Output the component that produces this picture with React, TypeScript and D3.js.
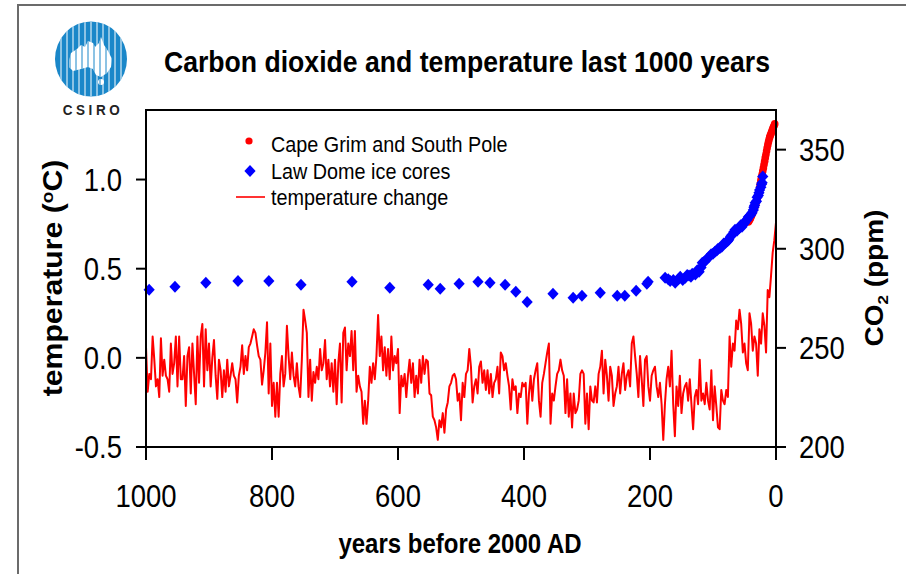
import React from "react";
import * as d3 from "d3";

const W = 906;
const H = 574;
const margin = { top: 110, right: 130, bottom: 127, left: 146 };
const K = 1.12; // vertical stretch of the text in the original picture

const xTicks = [1000, 800, 600, 400, 200, 0];
const tempTicks = [-0.5, 0.0, 0.5, 1.0];
const co2Ticks = [200, 250, 300, 350];

const temperature = [
  0.06, -0.19, -0.09, -0.12, 0.12, -0.01, -0.16, -0.12, -0.22, 0.11,
  -0.1, -0.01, -0.1, -0.12, -0.19, 0.08, -0.09, -0.03, 0.12, -0.16,
  0.12, -0.12, -0.12, 0.01, -0.27, 0.01, 0.06, -0.2, 0.08, -0.09,
  -0.26, 0.12, -0.14, 0.12, 0.19, -0.16, 0.16, -0.07, 0.08, -0.16,
  0.0, 0.1, -0.1, -0.23, -0.01, -0.07, -0.22, -0.07, -0.19, -0.01,
  -0.16, -0.1, -0.03, -0.1, -0.12, -0.25, -0.1, -0.05, 0.07, -0.09,
  0.01, -0.07, 0.06, 0.08, 0.12, 0.16, 0.14, 0.07, 0.01, -0.01,
  -0.15, -0.07, 0.03, 0.2, -0.2, 0.08, -0.27, -0.14, -0.33, -0.14,
  -0.33, -0.09, 0.01, -0.16, -0.09, 0.18, 0.01, -0.12, 0.03, -0.1,
  -0.16, -0.03, -0.16, -0.22, -0.01, 0.27,
  0.21, 0.14, -0.22, -0.01, -0.24, -0.08, -0.14, -0.05, -0.12, 0.05,
  -0.07, -0.03, 0.1, -0.12, -0.01, -0.16, -0.03, -0.19, -0.01, -0.26,
  -0.03, 0.08, -0.25, 0.14, 0.17, -0.07, 0.08, 0.01, 0.15, -0.07,
  0.15, -0.19, -0.1, -0.16, -0.19, -0.37, -0.24, -0.37, -0.24, -0.05,
  -0.14, -0.03, -0.12, 0.01, 0.24, 0.01, 0.12, -0.07, 0.06, -0.1,
  0.05, -0.12, 0.12, -0.07, 0.01, -0.03, 0.05, -0.31, -0.1, -0.16,
  -0.09, -0.22, -0.1, -0.01, -0.14, -0.03, -0.22, -0.1, -0.2, -0.01,
  -0.14, 0.01, -0.09, -0.01, -0.02, -0.2, -0.21, -0.33, -0.35, -0.39,
  -0.46, -0.35, -0.39, -0.31, -0.42, -0.29, -0.25, -0.16, -0.14, -0.1,
  -0.09, -0.12, -0.24, -0.2,
  -0.35, -0.14, -0.22, -0.09, -0.07, 0.05, -0.05, -0.25, -0.16, -0.12,
  -0.2, -0.05, -0.02, -0.14, -0.07, -0.18, -0.07, -0.2, -0.09, -0.22,
  -0.14, -0.12, -0.05, -0.2, 0.03, 0.01, -0.07, -0.03, -0.1, -0.16,
  -0.29, -0.12, -0.18, -0.16, -0.31, -0.2, -0.22, -0.14, -0.16, -0.14,
  -0.37, -0.2, -0.1, -0.24, -0.12, -0.07, -0.03, -0.24, -0.33, -0.14,
  -0.09, -0.03, 0.03, 0.08, -0.37, -0.2, -0.24, -0.16, -0.09, -0.07,
  -0.01, -0.07, -0.1, -0.31, -0.12, -0.33, -0.2, -0.39, -0.2, -0.31,
  -0.29, -0.24, -0.09, -0.07, -0.09, -0.37, -0.2, -0.4, -0.16, -0.24,
  -0.25, -0.16, -0.25, -0.09, -0.05, 0.04, -0.2, -0.01, -0.1, -0.24,
  -0.05, -0.1, -0.27, -0.2,
  -0.16, -0.05, -0.2, -0.09, -0.03, -0.18, -0.1, -0.07, -0.16, 0.08,
  0.12, 0.01, -0.09, -0.22, 0.01, -0.12, -0.27, -0.01, 0.01, -0.16,
  -0.24, -0.1, -0.07, -0.05, -0.16, -0.22, -0.14, -0.26, -0.46, -0.26,
  -0.12, -0.05, -0.16, 0.04, -0.26, -0.44, -0.16, -0.27, -0.1, -0.31,
  -0.2, -0.16, -0.14, -0.24, -0.12, -0.26, -0.4, -0.22, -0.18, -0.26,
  -0.01, -0.24, -0.2, -0.26, -0.14, -0.24, -0.29, -0.07, -0.35, -0.16,
  -0.27, -0.39, -0.4, -0.18, -0.24, -0.26, -0.18, -0.22, 0.12, -0.05,
  0.08, 0.04, 0.21, 0.16, 0.27, 0.19, 0.03, 0.08, -0.03, -0.07,
  0.25, 0.19, 0.04, 0.12, 0.08, -0.1, 0.16, 0.08, 0.25, 0.18,
  0.03, 0.38, 0.34, 0.46, 0.59, 0.66, 0.76,
];

// Law Dome ice cores: years before 2000 AD and CO2 (ppm)
const lawDomeYears = [
  995, 954, 905, 854, 805, 754, 673, 613, 552, 533,
  503, 473, 454, 430, 413, 395, 354, 322, 308, 279,
  252, 240, 222, 205, 203, 176, 171, 168, 163, 160,
  155, 152, 148, 144, 141, 138, 135, 133, 128, 125,
  122, 119, 117, 114, 112, 109, 106, 103, 100, 97,
  94, 92, 89, 86, 83, 80, 77, 75, 72, 70,
  67, 65, 62, 58, 56, 54, 52, 50, 48, 46,
  44, 42, 40, 38, 36, 35, 34, 33, 31, 30,
  28, 27, 26, 24, 23, 22, 21,
];
const lawDomeCO2 = [
  279.3, 280.8, 282.8, 283.8, 283.8, 281.8, 283.3, 280.3, 281.8, 279.8,
  282.3, 283.3, 282.8, 281.8, 278.3, 273.2, 277.3, 275.3, 276.3, 277.8,
  276.3, 276.3, 278.8, 282.3, 283.3, 285.4, 284.6, 283.8, 284.2, 282.8,
  284.6, 285.9, 284.3, 285.4, 286.8, 286.5, 285.9, 287.4, 287.0, 289.2,
  288.4, 290.6, 292.9, 293.4, 294.0, 295.1, 296.0, 297.2, 297.5, 298.5,
  299.1, 300.0, 300.4, 301.0, 302.6, 303.0, 303.8, 304.5, 306.2, 307.0,
  308.4, 309.6, 309.1, 310.5, 311.8, 311.1, 312.2, 313.0, 314.1, 314.6,
  316.0, 316.5, 317.2, 318.2, 319.6, 321.0, 321.8, 323.2, 324.0, 326.0,
  326.9, 328.3, 329.6, 331.0, 332.5, 333.3, 336.4,
];

// Cape Grim and South Pole: years before 2000 AD and CO2 (ppm)
const capeGrimYears = [
  44, 43, 42, 41, 40, 39, 38, 37, 36, 35, 34, 33, 32, 31, 30, 29, 28, 27, 26, 25,
  24, 23, 22, 21, 20, 19, 18, 17, 16, 15, 14, 13, 12, 11, 10, 9, 8, 7, 6, 5,
  4, 3, 2,
];
const capeGrimCO2 = [
  313.5, 314.0, 314.6, 315.2, 315.9, 316.6, 317.4, 318.2, 319.0, 319.9,
  320.8, 321.8, 322.8, 323.9, 325.0, 326.2, 327.5, 329.0, 330.8, 332.6,
  334.5, 336.0, 337.6, 339.2, 340.8, 342.5, 344.2, 345.9, 347.6, 349.3,
  350.9, 352.4, 353.8, 355.1, 356.3, 357.2, 358.0, 358.9, 359.8, 360.6,
  361.4, 362.2, 363.0,
];

const tempYears = temperature.map((_, i) => 1000 - (i * 1000) / (temperature.length - 1));

const FONT = "Liberation Sans, Arial, Helvetica, sans-serif";

// text stretched vertically like the source picture
const Txt = ({ x, y, size, bold = false, anchor = "start", k = K, rot = false, spacing = 0, fill = "#000", children }: any) => (
  <text
    transform={`translate(${x},${y})${rot ? ` rotate(-90) scale(${k},1)` : ` scale(1,${k})`}`}
    fontFamily={FONT}
    fontSize={size}
    fontWeight={bold ? "bold" : "normal"}
    textAnchor={anchor}
    letterSpacing={spacing}
    fill={fill}
  >
    {children}
  </text>
);

const diamond = (cx: number, cy: number) =>
  `M${cx},${cy - 6}L${cx + 5.6},${cy}L${cx},${cy + 6}L${cx - 5.6},${cy}Z`;

const Logo = () => {
  const cx = 91, cy = 59, rx = 36, ry = 37.5;
  // rough outline of Australia inside the logo
  const aus = [
    [-22, 2], [-20, -6], [-14, -10], [-10, -14], [-6, -12], [-3, -18], [2, -16], [4, -12],
    [8, -16], [10, -22], [13, -14], [17, -8], [21, 0], [20, 8], [16, 14], [10, 18],
    [5, 16], [2, 10], [-3, 8], [-10, 10], [-18, 12], [-22, 8],
  ];
  const ausPath = d3.line()(aus.map(([dx, dy]) => [cx + dx, cy + dy] as [number, number])) + "Z";
  const stripes = d3.range(cx - 30, cx + 31, 6);
  return (
    <g>
      <defs>
        <clipPath id="logoClip">
          <ellipse cx={cx} cy={cy} rx={rx} ry={ry} />
        </clipPath>
        <clipPath id="ausClip">
          <path d={ausPath} />
          <ellipse cx={cx + 10} cy={cy + 23} rx={3} ry={3} />
        </clipPath>
      </defs>
      <ellipse cx={cx} cy={cy} rx={rx} ry={ry} fill="#1a87c9" />
      <g clipPath="url(#logoClip)">
        {stripes.map((sx) => (
          <line key={sx} x1={sx} x2={sx} y1={cy - ry} y2={cy + ry} stroke="#fff" strokeWidth={1} />
        ))}
      </g>
      <path d={ausPath} fill="#fff" />
      <ellipse cx={cx + 10} cy={cy + 23} rx={3} ry={3} fill="#fff" />
      <g clipPath="url(#ausClip)">
        {stripes.map((sx) => (
          <line key={sx} x1={sx + 3} x2={sx + 3} y1={cy - ry} y2={cy + ry} stroke="#1a87c9" strokeWidth={1} />
        ))}
      </g>
      <Txt x={cx + 2} y={115} size={13.5} bold anchor="middle" spacing={3.6} k={1.1} fill="#222">CSIRO</Txt>
    </g>
  );
};

export default function App() {
  const x = d3.scaleLinear().domain([1000, 0]).range([margin.left, W - margin.right]);
  const yT = d3.scaleLinear().domain([-0.5, 1.39]).range([H - margin.bottom, margin.top]);
  const yC = d3.scaleLinear().domain([200, 370]).range([H - margin.bottom, margin.top]);

  const left = margin.left;
  const right = W - margin.right;
  const top = margin.top;
  const bottom = H - margin.bottom;

  const tempLine = d3
    .line<number>()
    .x((_, i) => x(tempYears[i]))
    .y((d) => yT(d));

  return (
    <svg
      width={W}
      height={H}
      style={{ position: "absolute", left: 0, top: 0, background: "#fff" }}
    >
      {/* outer frame */}
      <path d={`M18,${H}V5H${W}`} fill="none" stroke="#6b6b6b" strokeWidth={2} />

      <Logo />

      <Txt x={467} y={72} size={26.6} bold anchor="middle" k={1.13}>
        Carbon dioxide and temperature last 1000 years
      </Txt>

      {/* data */}
      <path d={tempLine(temperature) || ""} fill="none" stroke="#ff0000" strokeWidth={2} strokeLinejoin="round" />
      {capeGrimCO2.map((v, i) => (
        <circle key={i} cx={x(capeGrimYears[i])} cy={yC(v)} r={3.8} fill="#ff0000" />
      ))}
      {lawDomeCO2.map((v, i) => (
        <path key={i} d={diamond(x(lawDomeYears[i]), yC(v))} fill="#0000ff" />
      ))}

      {/* plot frame */}
      <rect x={left} y={top} width={right - left} height={bottom - top} fill="none" stroke="#000" strokeWidth={2} />

      {/* bottom axis */}
      {xTicks.map((t) => (
        <g key={t}>
          <line x1={x(t)} x2={x(t)} y1={bottom} y2={bottom + 13} stroke="#000" strokeWidth={2} />
          <Txt x={x(t)} y={bottom + 60} size={27.5} anchor="middle">{t}</Txt>
        </g>
      ))}
      {/* left axis */}
      {tempTicks.map((t) => (
        <g key={t}>
          <line x1={left - 10} x2={left} y1={yT(t)} y2={yT(t)} stroke="#000" strokeWidth={2} />
          <Txt x={left - 24} y={yT(t) + 11} size={27.5} anchor="end">{t.toFixed(1)}</Txt>
        </g>
      ))}
      {/* right axis */}
      {co2Ticks.map((t) => (
        <g key={t}>
          <line x1={right} x2={right + 10} y1={yC(t)} y2={yC(t)} stroke="#000" strokeWidth={2} />
          <Txt x={right + 23} y={yC(t) + 11} size={27.5}>{t}</Txt>
        </g>
      ))}

      {/* axis titles */}
      <Txt x={460} y={553} size={24} bold anchor="middle">years before 2000 AD</Txt>
      <Txt x={62} y={278} size={27} bold anchor="middle" rot>
        temperature (
        <tspan dy={-9} fontSize={17}>o</tspan>
        <tspan dy={9}>C)</tspan>
      </Txt>
      <Txt x={883} y={278} size={25} bold anchor="middle" rot>
        CO
        <tspan dy={5} fontSize={15}>2</tspan>
        <tspan dy={-5}> (ppm)</tspan>
      </Txt>

      {/* legend */}
      <circle cx={249} cy={141} r={3.6} fill="#ff0000" />
      <Txt x={271} y={152} size={19.8} k={1.15}>Cape Grim and South Pole</Txt>
      <path d={diamond(250, 171)} fill="#0000ff" />
      <Txt x={271} y={179} size={19.8} k={1.15}>Law Dome ice cores</Txt>
      <line x1={236} x2={265} y1={197} y2={197} stroke="#ff0000" strokeWidth={1.6} />
      <Txt x={271} y={205} size={19.8} k={1.15}>temperature change</Txt>
    </svg>
  );
}
